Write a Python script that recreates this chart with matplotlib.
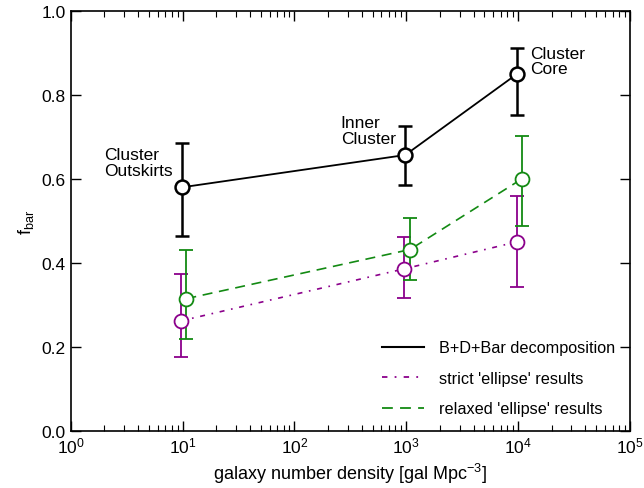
import matplotlib
matplotlib.use("Agg")
from matplotlib import pyplot as plt
from matplotlib.lines import Line2D

plt.rcParams['font.family'] = ['Liberation Sans', 'DejaVu Sans']
plt.rcParams['mathtext.default'] = 'regular'

# B+D+Bar decomposition
x_bdb = [9.8, 980, 9800]
y_bdb = [0.58, 0.657, 0.85]
e_bdb_lo = [0.115, 0.072, 0.098]
e_bdb_hi = [0.105, 0.07, 0.062]

# strict 'ellipse'
x_strict = [9.6, 960, 9700]
y_strict = [0.262, 0.386, 0.45]
e_strict_lo = [0.087, 0.07, 0.107]
e_strict_hi = [0.112, 0.076, 0.11]

# relaxed 'ellipse'
x_relax = [10.8, 1080, 10800]
y_relax = [0.315, 0.432, 0.6]
e_relax_lo = [0.095, 0.072, 0.112]
e_relax_hi = [0.115, 0.074, 0.102]

labels = ["Cluster\nOutskirts", "Inner\nCluster", "Cluster\nCore"]
label_x = [1.97, 260, 12700]
label_y = [0.675, 0.752, 0.917]

fig = plt.figure(figsize=(6.44, 4.89), dpi=100)
ax = fig.add_axes([0.110, 0.1166, 0.868, 0.859])

purple = '#8b008b'
green = '#138a13'
ls_strict = (0, (3, 4, 1, 4))
ls_relax = (0, (6, 4))

ax.errorbar(x_strict, y_strict, yerr=[e_strict_lo, e_strict_hi], color=purple,
            ls=ls_strict, lw=1.2, marker='o', ms=10, mfc='white', mec=purple,
            mew=1.3, capsize=5, elinewidth=1.3, capthick=1.3, zorder=3)
ax.errorbar(x_relax, y_relax, yerr=[e_relax_lo, e_relax_hi], color=green,
            ls=ls_relax, lw=1.2, marker='o', ms=10, mfc='white', mec=green,
            mew=1.3, capsize=5, elinewidth=1.3, capthick=1.3, zorder=3)
ax.errorbar(x_bdb, y_bdb, yerr=[e_bdb_lo, e_bdb_hi], color='black',
            ls='-', lw=1.3, marker='o', ms=10, mfc='white', mec='black',
            mew=1.8, capsize=5, elinewidth=1.8, capthick=1.8, zorder=4)

for t, tx, ty in zip(labels, label_x, label_y):
    ax.text(tx, ty, t, fontsize=12.5, ha='left', va='top', linespacing=1.05)

ax.set_xscale('log')
ax.set_xlim(1, 1e5)
ax.set_ylim(0, 1.0)
ax.set_xlabel("galaxy number density [gal Mpc$^{-3}$]", fontsize=13)
ax.set_ylabel("f$_{bar}$", fontsize=13)
ax.tick_params(which='both', direction='in', top=True, right=True, labelsize=12.5)
ax.tick_params(which='major', length=7, width=1)
ax.tick_params(which='minor', length=4, width=0.8)
ax.set_yticks([0, 0.2, 0.4, 0.6, 0.8, 1.0])
for s in ax.spines.values():
    s.set_linewidth(1.2)

handles = [Line2D([], [], color='black', lw=1.5, ls='-'),
           Line2D([], [], color=purple, lw=1.3, ls=ls_strict),
           Line2D([], [], color=green, lw=1.3, ls=ls_relax)]
names = ["B+D+Bar decomposition", "strict 'ellipse' results", "relaxed 'ellipse' results"]
ax.legend(handles, names, loc='lower right', frameon=False, fontsize=11.7,
          handlelength=2.6, handletextpad=0.9, labelspacing=0.95,
          bbox_to_anchor=(1.0, 0.0))

fig.savefig("out.png", dpi=100)
